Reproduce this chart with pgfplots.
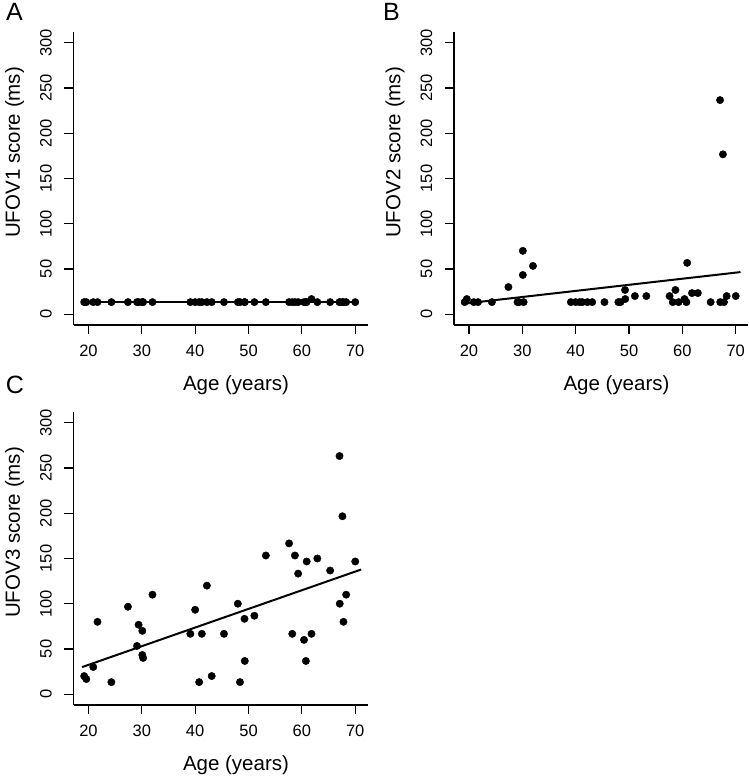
\documentclass[border=0pt]{standalone}
\usepackage{fontspec}
\setmainfont{Liberation Sans}
\usepackage{pgfplots}
\usepackage{pgfplotstable}
\pgfplotsset{compat=1.18}
\pgfplotstableread{
age a b c
19.2 13.3 13.3 20
19.6 13.3 16.7 16.7
20.9 13.3 13.3 30
21.7 13.3 13.3 80
24.3 13.3 13.3 13.3
27.4 13.3 30 96.7
29.1 13.3 13.3 53.3
29.4 13.3 13.3 76.7
30.1 13.3 70 70
30.1 13.3 43.3 43.3
30.25 13.3 13.3 40
32.0 13.3 53.3 110
39.1 13.3 13.3 66.7
40.0 13.3 13.3 93.3
40.75 13.3 13.3 13.3
41.25 13.3 13.3 66.7
42.2 13.3 13.3 120
43.1 13.3 13.3 20
45.4 13.3 13.3 66.7
48.0 13.3 13.3 100
48.4 13.3 13.3 13.3
49.25 13.3 26.7 83.3
49.3 13.3 16.7 36.7
51.1 13.3 20 86.7
53.25 13.3 20 153.3
57.6 13.3 20 166.7
58.2 13.3 13.3 66.7
58.7 13.3 26.7 153.3
59.3 13.3 13.3 133.3
60.4 13.3 16.7 60
60.75 13.3 13.3 36.7
60.9 13.3 56.7 146.7
61.8 16.7 23.3 66.7
62.9 13.3 23.3 150
65.3 13.3 13.3 136.7
67.06 13.3 236.7 263.3
67.1 13.3 13.3 100
67.6 13.3 176.7 196.7
67.8 13.3 13.3 80
68.3 13.3 20 110
70.0 13.3 20 146.7
}\data
\pgfplotsset{panel/.style={
  scale only axis, width=294pt, height=293pt,
  xmin=17.2, xmax=72.3, ymin=-12, ymax=312,
  axis lines*=left, axis line style={-, line width=1.2pt, black},
  xtick={20,30,...,70}, ytick={0,50,...,300},
  minor tick num=0,
  tick align=outside, major tick length=9pt,
  tick style={line width=1.2pt, black},
  /pgf/number format/assume math mode=true,
  ticklabel style={font=\fontsize{16.5}{16.5}\selectfont},
  yticklabel style={rotate=90, anchor=south, inner sep=0pt},
  yticklabel shift=12.5pt,
  xticklabel style={yshift=-7pt},
  every axis x label/.style={at={(axis description cs:0.5527,0)}, yshift=-60pt, anchor=center, font=\fontsize{20.5}{20.5}\selectfont},
  every axis y label/.style={at={(axis description cs:0,0.589)}, xshift=-59pt, anchor=center, rotate=90, font=\fontsize{20.5}{20.5}\selectfont},
  xlabel={Age (years)},
  clip=false,
}}
\begin{document}
\begin{tikzpicture}
\useasboundingbox (0pt,0pt) rectangle (748pt,776pt);
\begin{axis}[panel, at={(73.5pt,451pt)}, anchor=south west, ylabel={UFOV1 score (ms)}]
\addplot[black, line width=2pt] coordinates {(18.9,13.3) (70.75,13.3)};
\addplot[only marks, mark=*, mark size=3.7pt, black] table[x=age, y=a] {\data};
\end{axis}
\begin{axis}[panel, at={(454pt,451pt)}, anchor=south west, ylabel={UFOV2 score (ms)}]
\addplot[black, line width=2pt] coordinates {(19.2,11.7) (70.9,46.5)};
\addplot[only marks, mark=*, mark size=3.7pt, black] table[x=age, y=b] {\data};
\end{axis}
\begin{axis}[panel, at={(73.5pt,71pt)}, anchor=south west, ylabel={UFOV3 score (ms)}]
\addplot[black, line width=2pt] coordinates {(18.8,29.9) (71.1,137.8)};
\addplot[only marks, mark=*, mark size=3.7pt, black] table[x=age, y=c] {\data};
\end{axis}
\node[font=\fontsize{25}{25}\selectfont, anchor=center] at (14.5pt,764.5pt) {A};
\node[font=\fontsize{25}{25}\selectfont, anchor=center] at (391.5pt,764.5pt) {B};
\node[font=\fontsize{25}{25}\selectfont, anchor=center] at (15pt,391pt) {C};
\end{tikzpicture}
\end{document}
